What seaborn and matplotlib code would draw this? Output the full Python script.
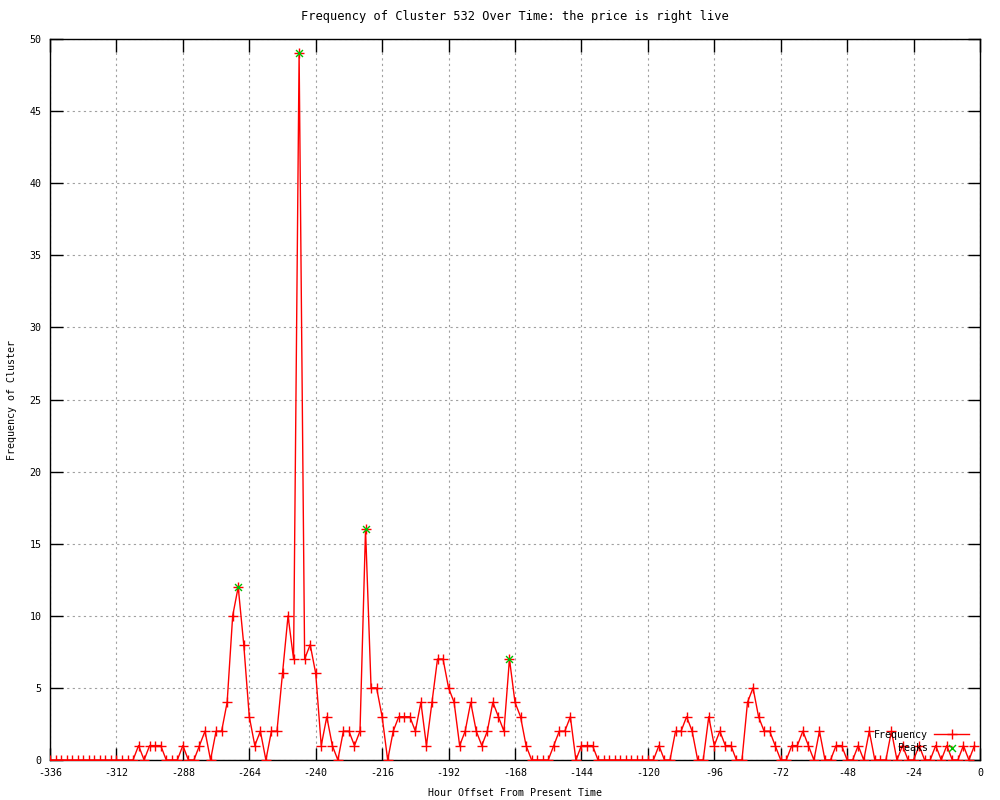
import numpy as np
import pandas as pd
import matplotlib
matplotlib.use("Agg")
import matplotlib.pyplot as plt
import seaborn as sns

# hour offsets, every 2 hours from -336 to -2
hours = list(range(-336, 0, 2))

# frequency per 2-hour bin
freq = [
    0, 0, 0, 0, 0, 0, 0, 0, 0, 0, 0, 0,      # -336 .. -314
    0, 0, 0, 0, 1, 0, 1, 1, 1, 0, 0, 0,      # -312 .. -290
    1, 0, 0, 1, 2, 0, 2, 2, 4, 10, 12, 8,    # -288 .. -266
    3, 1, 2, 0, 2, 2, 6, 10, 7, 49, 7, 8,    # -264 .. -242
    6, 1, 3, 1, 0, 2, 2, 1, 2, 16, 5, 5,     # -240 .. -218
    3, 0, 2, 3, 3, 3, 2, 4, 1, 4, 7, 7,      # -216 .. -194
    5, 4, 1, 2, 4, 2, 1, 2, 4, 3, 2, 7,      # -192 .. -170
    4, 3, 1, 0, 0, 0, 0, 1, 2, 2, 3, 0,      # -168 .. -146
    1, 1, 1, 0, 0, 0, 0, 0, 0, 0, 0, 0,      # -144 .. -122
    0, 0, 1, 0, 0, 2, 2, 3, 2, 0, 0, 3,      # -120 .. -98
    1, 2, 1, 1, 0, 0, 4, 5, 3, 2, 2, 1,      # -96 .. -74
    0, 0, 1, 1, 2, 1, 0, 2, 0, 0, 1, 1,      # -72 .. -50
    0, 0, 1, 0, 2, 0, 0, 0, 2, 0, 1, 0,      # -48 .. -26
    0, 1, 0, 0, 1, 0, 1, 0, 0, 1, 0, 1,      # -24 .. -2
]

peak_hours = [-268, -246, -222, -170]
peak_vals = [12, 49, 16, 7]

xticks = list(range(-336, 1, 24))
yticks = list(range(0, 51, 5))

df = pd.DataFrame({"hour": hours, "freq": freq})
peaks = pd.DataFrame({"hour": peak_hours, "freq": peak_vals})

plt.rcParams['font.family'] = ['DejaVu Sans Mono']
plt.rcParams['font.size'] = 7.2
plt.rcParams['axes.unicode_minus'] = False

fig = plt.figure(figsize=(10, 8), dpi=100)
ax = fig.add_axes([0.05, 0.05, 0.93, 0.90125])

sns.lineplot(data=df, x="hour", y="freq", ax=ax, color="red", linewidth=1,
             marker="+", markersize=7, markeredgewidth=1, markeredgecolor="red",
             label="Frequency", zorder=3)
sns.scatterplot(data=peaks, x="hour", y="freq", ax=ax, marker="x", color="#00c000",
                s=25, linewidth=1, label="Peaks", zorder=4)

ax.set_xlim(-336, 0)
ax.set_ylim(0, 50)
ax.set_xticks(xticks)
ax.set_yticks(yticks)
ax.grid(True, color="#a0a0a0", linestyle=(0, (2, 3)), linewidth=0.8)
ax.set_axisbelow(True)
ax.tick_params(direction="in", top=True, right=True, length=9, width=1, pad=6)
for s in ax.spines.values():
    s.set_color("black")
    s.set_linewidth(1)

ax.set_title("Frequency of Cluster 532 Over Time: the price is right live", pad=14)
ax.set_xlabel("Hour Offset From Present Time", labelpad=7)
ax.set_ylabel("Frequency of Cluster")
ax.yaxis.set_label_coords(-0.035, 0.5)

leg = ax.legend(loc="lower right", bbox_to_anchor=(0.995, 0.002), frameon=False,
                markerfirst=False, handlelength=3.5, labelspacing=0.3,
                borderaxespad=0.2, handletextpad=0.6)

fig.savefig("out.png", dpi=100)
